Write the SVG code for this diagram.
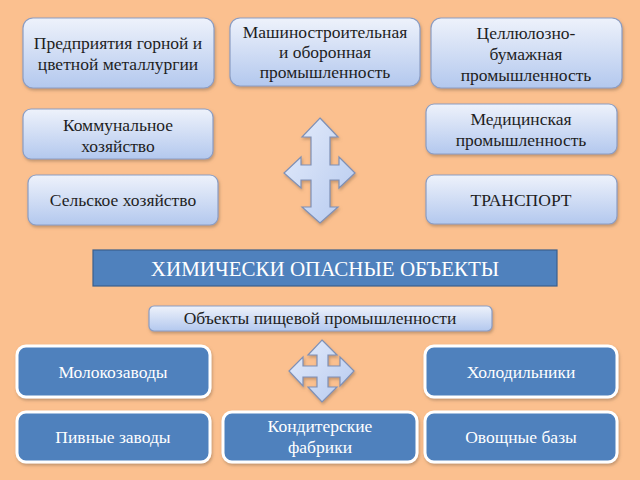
<svg xmlns="http://www.w3.org/2000/svg" width="640" height="480" viewBox="0 0 640 480" font-family="Liberation Serif, DejaVu Serif, Times New Roman, serif">
<defs>
<linearGradient id="lg" x1="0" y1="0" x2="0" y2="1">
<stop offset="0" stop-color="#eef2fb"/>
<stop offset="1" stop-color="#b3c8ee"/>
</linearGradient>
<linearGradient id="ag" x1="0" y1="0" x2="1" y2="1">
<stop offset="0" stop-color="#e6edfb"/>
<stop offset="1" stop-color="#b5c9ef"/>
</linearGradient>
<filter id="sh" x="-10%" y="-10%" width="120%" height="130%">
<feDropShadow dx="1" dy="2" stdDeviation="1.5" flood-color="#8a6a50" flood-opacity="0.5"/>
</filter>
</defs>
<style>
.lt{fill:url(#lg);stroke:#8b9dc3;stroke-width:1.2;filter:url(#sh)}
.bl{fill:#4f81bd;stroke:#ffffff;stroke-width:3;filter:url(#sh)}
.bar{fill:#4f81bd;stroke:#3b5f8c;stroke-width:1.2}
.t{fill:#1e1e1e;font-size:17.5px;text-anchor:middle}
.w{fill:#ffffff;font-size:17.5px;text-anchor:middle}
.arr{fill:url(#ag);stroke:#7f90b5;stroke-width:1.2;filter:url(#sh)}
</style>
<rect width="640" height="480" fill="#fbc08f"/>

<g id="connectors">
<path class="arr" d="M320,118 L338,137 L330,137 L330,165 L339,165 L339,157 L355,173 L339,188 L339,180 L330,180 L330,207 L338,207 L320,223 L302,207 L311,207 L311,180 L301,180 L301,188 L284,173 L301,157 L301,165 L311,165 L311,137 L302,137 Z"/>
<path class="arr" d="M322,340 L337,355 L328,355 L328,366 L340,366 L340,357 L354,371 L340,386 L340,377 L328,377 L328,387 L337,387 L322,402 L308,387 L317,387 L317,377 L303,377 L303,386 L289,371 L303,357 L303,366 L317,366 L317,355 L308,355 Z"/>
</g>

<g id="n1"><rect class="lt" x="23" y="18" width="191" height="70" rx="10"/>
<text class="t" x="118" y="49">Предприятия горной и</text>
<text class="t" x="118" y="70">цветной металлургии</text></g>

<g id="n2"><rect class="lt" x="230" y="18" width="190" height="68" rx="10"/>
<text class="t" x="325" y="38">Машиностроительная</text>
<text class="t" x="325" y="58">и оборонная</text>
<text class="t" x="325" y="78">промышленность</text></g>

<g id="n3"><rect class="lt" x="431" y="18" width="191" height="70" rx="10"/>
<text class="t" x="526" y="39">Целлюлозно-</text>
<text class="t" x="526" y="60">бумажная</text>
<text class="t" x="526" y="81">промышленность</text></g>

<g id="n4"><rect class="lt" x="23" y="109" width="190" height="50" rx="8"/>
<text class="t" x="118" y="131">Коммунальное</text>
<text class="t" x="118" y="152">хозяйство</text></g>

<g id="n5"><rect class="lt" x="426" y="104" width="191" height="50" rx="8"/>
<text class="t" x="521" y="125">Медицинская</text>
<text class="t" x="521" y="146">промышленность</text></g>

<g id="n6"><rect class="lt" x="28" y="175" width="190" height="50" rx="8"/>
<text class="t" x="123" y="206">Сельское хозяйство</text></g>

<g id="n7"><rect class="lt" x="426" y="175" width="191" height="49" rx="8"/>
<text class="t" x="521" y="206">ТРАНСПОРТ</text></g>

<g id="main"><rect class="bar" x="93" y="250" width="464" height="36"/>
<text class="w" x="325" y="276" style="font-size:21px">ХИМИЧЕСКИ ОПАСНЫЕ ОБЪЕКТЫ</text></g>

<g id="food"><rect class="lt" x="149" y="306" width="343" height="25" rx="5"/>
<text class="t" x="320" y="324">Объекты пищевой промышленности</text></g>

<g id="b1"><rect class="bl" x="17" y="346" width="193" height="51" rx="9"/>
<text class="w" x="113" y="378">Молокозаводы</text></g>

<g id="b2"><rect class="bl" x="425" y="346" width="192" height="51" rx="9"/>
<text class="w" x="521" y="378">Холодильники</text></g>

<g id="b3"><rect class="bl" x="17" y="412" width="193" height="50" rx="9"/>
<text class="w" x="113" y="443">Пивные заводы</text></g>

<g id="b4"><rect class="bl" x="223" y="412" width="194" height="50" rx="9"/>
<text class="w" x="320" y="432">Кондитерские</text>
<text class="w" x="320" y="453">фабрики</text></g>

<g id="b5"><rect class="bl" x="425" y="412" width="192" height="50" rx="9"/>
<text class="w" x="521" y="443">Овощные базы</text></g>
</svg>
